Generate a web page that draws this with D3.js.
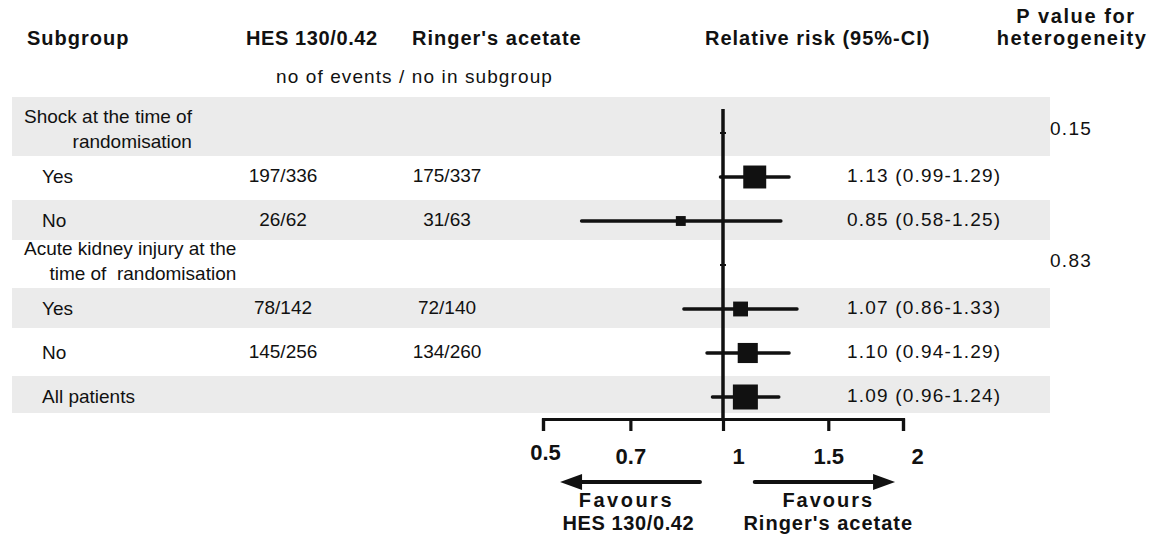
<html>
<head>
  <title>Subgroup forest plot</title>
  <script src='https://d3js.org/d3.v7.min.js'></script>
  <style>
    body { margin: 0; background: #fff; }
    text { font-family: 'Liberation Sans', Arial, sans-serif; fill: #111; white-space: pre; }
    .hd { font-weight: bold; font-size: 20px; letter-spacing: 1px; }
    .bd { font-size: 19px; }
  </style>
</head>
<body>
<script>

// rows of the table
var subgroups = ["Shock at the time of|randomisation", "Yes", "No",
                 "Acute kidney injury at the|time of  randomisation", "Yes", "No", "All patients"];
var isHeader = [true, false, false, true, false, false, false];
var hesCounts = ["", "197/336", "26/62", "", "78/142", "145/256", ""];
var ringerCounts = ["", "175/337", "31/63", "", "72/140", "134/260", ""];
var rr = [null, 1.13, 0.85, null, 1.07, 1.10, 1.09];
var rrLow = [null, 0.99, 0.58, null, 0.86, 0.94, 0.96];
var rrHigh = [null, 1.29, 1.25, null, 1.33, 1.29, 1.24];
var nTotal = [null, 673, 125, null, 282, 516, 798];
var pHet = ["0.15", "", "", "0.83", "", "", ""];
var shaded = [true, false, true, false, true, false, true];
var axisTicks = [0.5, 0.7, 1, 1.5, 2];

var width = 1156,
    height = 547;

var svg = d3.select('body')
            .append('svg')
            .attr('width', width)
            .attr('height', height);

var x = d3.scaleLog().domain([0.5, 2]).range([543, 903]);
var y = d3.scaleBand().domain(d3.range(subgroups.length)).range([111, 419]);
var box = d3.scaleSqrt().domain([0, d3.max(nTotal)]).range([0, 25]);

var rows = d3.range(subgroups.length);

// grey bands
svg.selectAll('rect.band')
   .data(rows.filter(function(i) { return shaded[i]; }))
   .enter()
   .append('rect')
   .attr('class', 'band')
   .attr('x', 12)
   .attr('width', 1038)
   .attr('y', function(i) { return i == 0 ? 97 : y(i) + 1; })
   .attr('height', function(i) { return i == 0 ? y(i) + y.bandwidth() - 96 : Math.min(y.bandwidth() - 4, 413 - y(i) - 1); })
   .attr('fill', '#ebebeb');

// column headers
svg.append('text').attr('class', 'hd').attr('x', 27).attr('y', 45).text('Subgroup');
svg.append('text').attr('class', 'hd').attr('x', 246).attr('y', 45).style('letter-spacing', '0.6px').text('HES 130/0.42');
svg.append('text').attr('class', 'hd').attr('x', 412).attr('y', 45).text("Ringer's acetate");
svg.append('text').attr('class', 'hd').attr('x', 705).attr('y', 45).text('Relative risk (95%-CI)');
svg.append('text').attr('class', 'hd').attr('x', 1076).attr('y', 23).attr('text-anchor', 'middle').style('letter-spacing', '1.6px').text('P value for');
svg.append('text').attr('class', 'hd').attr('x', 1072).attr('y', 45).attr('text-anchor', 'middle').style('letter-spacing', '1.5px').text('heterogeneity');
svg.append('text').attr('class', 'bd').attr('x', 276).attr('y', 83).style('letter-spacing', '1.1px').text('no of events / no in subgroup');

function cy(i) { return y(i) + y.bandwidth() / 2; }

// subgroup labels
rows.forEach(function(i) {
  if (isHeader[i]) {
    var parts = subgroups[i].split('|');
    var t1 = svg.append('text').attr('class', 'bd').attr('x', 24).attr('y', cy(i) - 10).text(parts[0]);
    var end = 24 + t1.node().getComputedTextLength();
    svg.append('text').attr('class', 'bd').attr('x', end).attr('y', cy(i) + 15)
       .attr('text-anchor', 'end').text(parts[1]);
  } else {
    svg.append('text').attr('class', 'bd').attr('x', 42).attr('y', cy(i) + 6).text(subgroups[i]);
  }
});

// counts
svg.selectAll('text.hes')
   .data(rows)
   .enter()
   .append('text')
   .attr('class', 'bd hes')
   .attr('x', 283)
   .attr('y', function(i) { return cy(i) + 5; })
   .attr('text-anchor', 'middle')
   .text(function(i) { return hesCounts[i]; });

svg.selectAll('text.ring')
   .data(rows)
   .enter()
   .append('text')
   .attr('class', 'bd ring')
   .attr('x', 447)
   .attr('y', function(i) { return cy(i) + 5; })
   .attr('text-anchor', 'middle')
   .text(function(i) { return ringerCounts[i]; });

// vertical line of no effect
svg.append('line')
   .attr('x1', x(1)).attr('x2', x(1))
   .attr('y1', 109).attr('y2', 419)
   .attr('stroke', '#111')
   .attr('stroke-width', 3.5);

// little nubs on the header rows
svg.selectAll('rect.nub')
   .data(rows.filter(function(i) { return isHeader[i]; }))
   .enter()
   .append('rect')
   .attr('class', 'nub')
   .attr('x', x(1) - 3)
   .attr('y', function(i) { return cy(i) - 1; })
   .attr('width', 6)
   .attr('height', 2)
   .attr('fill', '#111');

var est = rows.filter(function(i) { return rr[i] != null; });

// confidence intervals
svg.selectAll('line.ci')
   .data(est)
   .enter()
   .append('line')
   .attr('class', 'ci')
   .attr('x1', function(i) { return x(rrLow[i]); })
   .attr('x2', function(i) { return x(rrHigh[i]); })
   .attr('y1', function(i) { return cy(i); })
   .attr('y2', function(i) { return cy(i); })
   .attr('stroke', '#111')
   .attr('stroke-width', 3.3)
   .attr('stroke-linecap', 'round');

// point estimates
svg.selectAll('rect.pt')
   .data(est)
   .enter()
   .append('rect')
   .attr('class', 'pt')
   .attr('x', function(i) { return x(rr[i]) - box(nTotal[i]) / 2; })
   .attr('y', function(i) { return cy(i) - box(nTotal[i]) / 2; })
   .attr('width', function(i) { return box(nTotal[i]); })
   .attr('height', function(i) { return box(nTotal[i]); })
   .attr('fill', '#111');

// relative risk text
svg.selectAll('text.rr')
   .data(est)
   .enter()
   .append('text')
   .attr('class', 'bd rr')
   .attr('x', 847)
   .attr('y', function(i) { return cy(i) + 5; })
   .style('letter-spacing', '1.2px')
   .text(function(i) { return rr[i].toFixed(2) + ' (' + rrLow[i].toFixed(2) + '-' + rrHigh[i].toFixed(2) + ')'; });

// heterogeneity p values
svg.selectAll('text.p')
   .data(rows.filter(function(i) { return pHet[i] != ""; }))
   .enter()
   .append('text')
   .attr('class', 'bd p')
   .attr('x', 1050)
   .attr('y', function(i) { return cy(i) + 2; })
   .style('letter-spacing', '1.3px')
   .text(function(i) { return pHet[i]; });

// axis
var labelShift = {0.5: 2, 1: 15, 2: 14};
var ax = svg.append('g')
   .attr('transform', 'translate(0,419)')
   .call(d3.axisBottom(x).tickValues(axisTicks).tickSize(12).tickSizeOuter(12).tickPadding(18)
         .tickFormat(function(d) { return String(d); }));

ax.select('.domain').attr('stroke', '#111').attr('stroke-width', 3.2);
ax.selectAll('.tick line').attr('stroke', '#111').attr('stroke-width', 3.2);
ax.selectAll('.tick text')
  .attr('fill', '#111')
  .style('font-family', "'Liberation Sans', Arial, sans-serif")
  .style('font-size', '22px')
  .style('font-weight', 'bold')
  .attr('dy', null)
  .attr('y', function(d) { return d == 0.5 ? 41 : 45; })
  .attr('dx', function(d) { return labelShift[d] || 0; });

// arrows
function arrow(from, to) {
  var y0 = 482, dir = to > from ? 1 : -1;
  svg.append('line')
     .attr('x1', from).attr('x2', to - dir * 16)
     .attr('y1', y0).attr('y2', y0)
     .attr('stroke', '#111').attr('stroke-width', 4).attr('stroke-linecap', 'round');
  svg.append('path')
     .attr('d', 'M' + to + ',' + y0 + 'L' + (to - dir * 22) + ',' + (y0 - 8) + 'L' + (to - dir * 22) + ',' + (y0 + 8) + 'Z')
     .attr('fill', '#111');
}
arrow(x(0.915), x(0.534));
arrow(x(1.13), x(1.94));

svg.append('text').attr('class', 'hd').attr('x', x(0.7) - 4).attr('y', 507).attr('text-anchor', 'middle').style('letter-spacing', '2.5px').text('Favours');
svg.append('text').attr('class', 'hd').attr('x', x(0.7) - 2).attr('y', 530).attr('text-anchor', 'middle').style('letter-spacing', '0.6px').text('HES 130/0.42');
svg.append('text').attr('class', 'hd').attr('x', x(1.5)).attr('y', 507).attr('text-anchor', 'middle').style('letter-spacing', '2px').text('Favours');
svg.append('text').attr('class', 'hd').attr('x', x(1.5)).attr('y', 530).attr('text-anchor', 'middle').text("Ringer's acetate");

</script>
</body>
</html>
